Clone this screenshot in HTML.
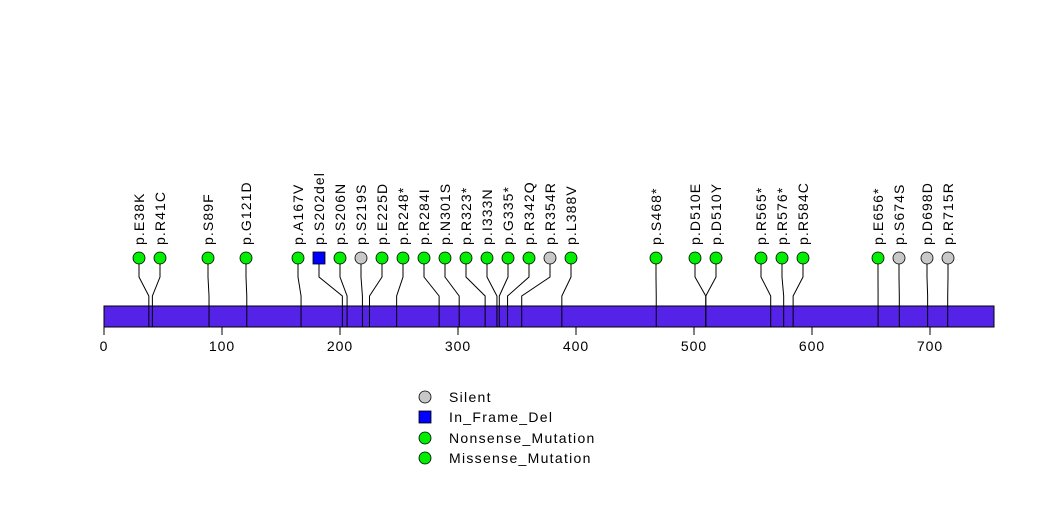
<!DOCTYPE html>
<html><head><meta charset="utf-8"><style>
html,body{margin:0;padding:0;background:#fff;}
svg text{font-family:"Liberation Sans",sans-serif;}
</style></head><body>
<svg width="1047" height="524" xmlns="http://www.w3.org/2000/svg">
<rect x="0" y="0" width="1047" height="524" fill="#fff"/>
<rect x="104" y="306" width="890" height="21" fill="#5522e8" stroke="#000" stroke-width="1"/>
<g stroke="#000" stroke-width="1" fill="none" id="lines"></g>
<g id="heads"></g>
<g id="labels" font-size="14" letter-spacing="1.1" fill="#000"></g>
<g stroke="#000" stroke-width="1">
<line x1="104" y1="327" x2="104" y2="335"/><line x1="222" y1="327" x2="222" y2="335"/><line x1="340" y1="327" x2="340" y2="335"/><line x1="458" y1="327" x2="458" y2="335"/><line x1="576" y1="327" x2="576" y2="335"/><line x1="694" y1="327" x2="694" y2="335"/><line x1="812" y1="327" x2="812" y2="335"/><line x1="930" y1="327" x2="930" y2="335"/>
</g>
<g font-size="14" letter-spacing="1" text-anchor="middle" fill="#000">
<text x="104" y="351">0</text><text x="222" y="351">100</text><text x="340" y="351">200</text><text x="458" y="351">300</text><text x="576" y="351">400</text><text x="694" y="351">500</text><text x="812" y="351">600</text><text x="930" y="351">700</text>
</g>
<g font-size="14" letter-spacing="1.3" fill="#000">
<circle cx="425" cy="397" r="6" fill="#c8c8c8" stroke="#000" stroke-width="0.8"/>
<rect x="419" y="411" width="12" height="12" fill="#0000ff" stroke="#000" stroke-width="0.8"/>
<circle cx="425" cy="438" r="6" fill="#00ee00" stroke="#000" stroke-width="0.8"/>
<circle cx="425" cy="458" r="6" fill="#00ee00" stroke="#000" stroke-width="0.8"/>
<text x="449" y="402">Silent</text>
<text x="449" y="422">In_Frame_Del</text>
<text x="449" y="443">Nonsense_Mutation</text>
<text x="449" y="463">Missense_Mutation</text>
</g>
<script>
var d=[[139,38,"p.E38K","g"],[160,41,"p.R41C","g"],[208,89,"p.S89F","g"],[246,121,"p.G121D","g"],[298,167,"p.A167V","g"],[319,202,"p.S202del","b"],[340,206,"p.S206N","g"],[361,219,"p.S219S","s"],[382,225,"p.E225D","g"],[403,248,"p.R248*","g"],[424,284,"p.R284I","g"],[445,301,"p.N301S","g"],[466,323,"p.R323*","g"],[487,333,"p.I333N","g"],[508,335,"p.G335*","g"],[529,342,"p.R342Q","g"],[550,354,"p.R354R","s"],[571,388,"p.L388V","g"],[656,468,"p.S468*","g"],[695,510,"p.D510E","g"],[716,510,"p.D510Y","g"],[761,565,"p.R565*","g"],[782,576,"p.R576*","g"],[803,584,"p.R584C","g"],[878,656,"p.E656*","g"],[899,674,"p.S674S","s"],[927,698,"p.D698D","s"],[948,715,"p.R715R","s"]];
var NS="http://www.w3.org/2000/svg";
var L=document.getElementById("lines"),H=document.getElementById("heads"),T=document.getElementById("labels");
d.forEach(function(e){
var hx=e[0],bx=104+1.18*e[1];
var p=document.createElementNS(NS,"path");
p.setAttribute("d","M"+hx+" 264 L"+hx+" 277 L"+bx+" 296 L"+bx+" 327");L.appendChild(p);
var s;
if(e[3]=="b"){s=document.createElementNS(NS,"rect");s.setAttribute("x",hx-6);s.setAttribute("y",252);s.setAttribute("width",12);s.setAttribute("height",12);s.setAttribute("fill","#0000ff");}
else{s=document.createElementNS(NS,"circle");s.setAttribute("cx",hx);s.setAttribute("cy",258);s.setAttribute("r",6);s.setAttribute("fill",e[3]=="s"?"#c8c8c8":"#00ee00");}
s.setAttribute("stroke","#000");s.setAttribute("stroke-width","0.8");H.appendChild(s);
var t=document.createElementNS(NS,"text");
t.setAttribute("transform","translate("+(hx+5)+",245) rotate(-90)");
t.textContent=e[2];T.appendChild(t);
});
</script>
</svg>
</body></html>
